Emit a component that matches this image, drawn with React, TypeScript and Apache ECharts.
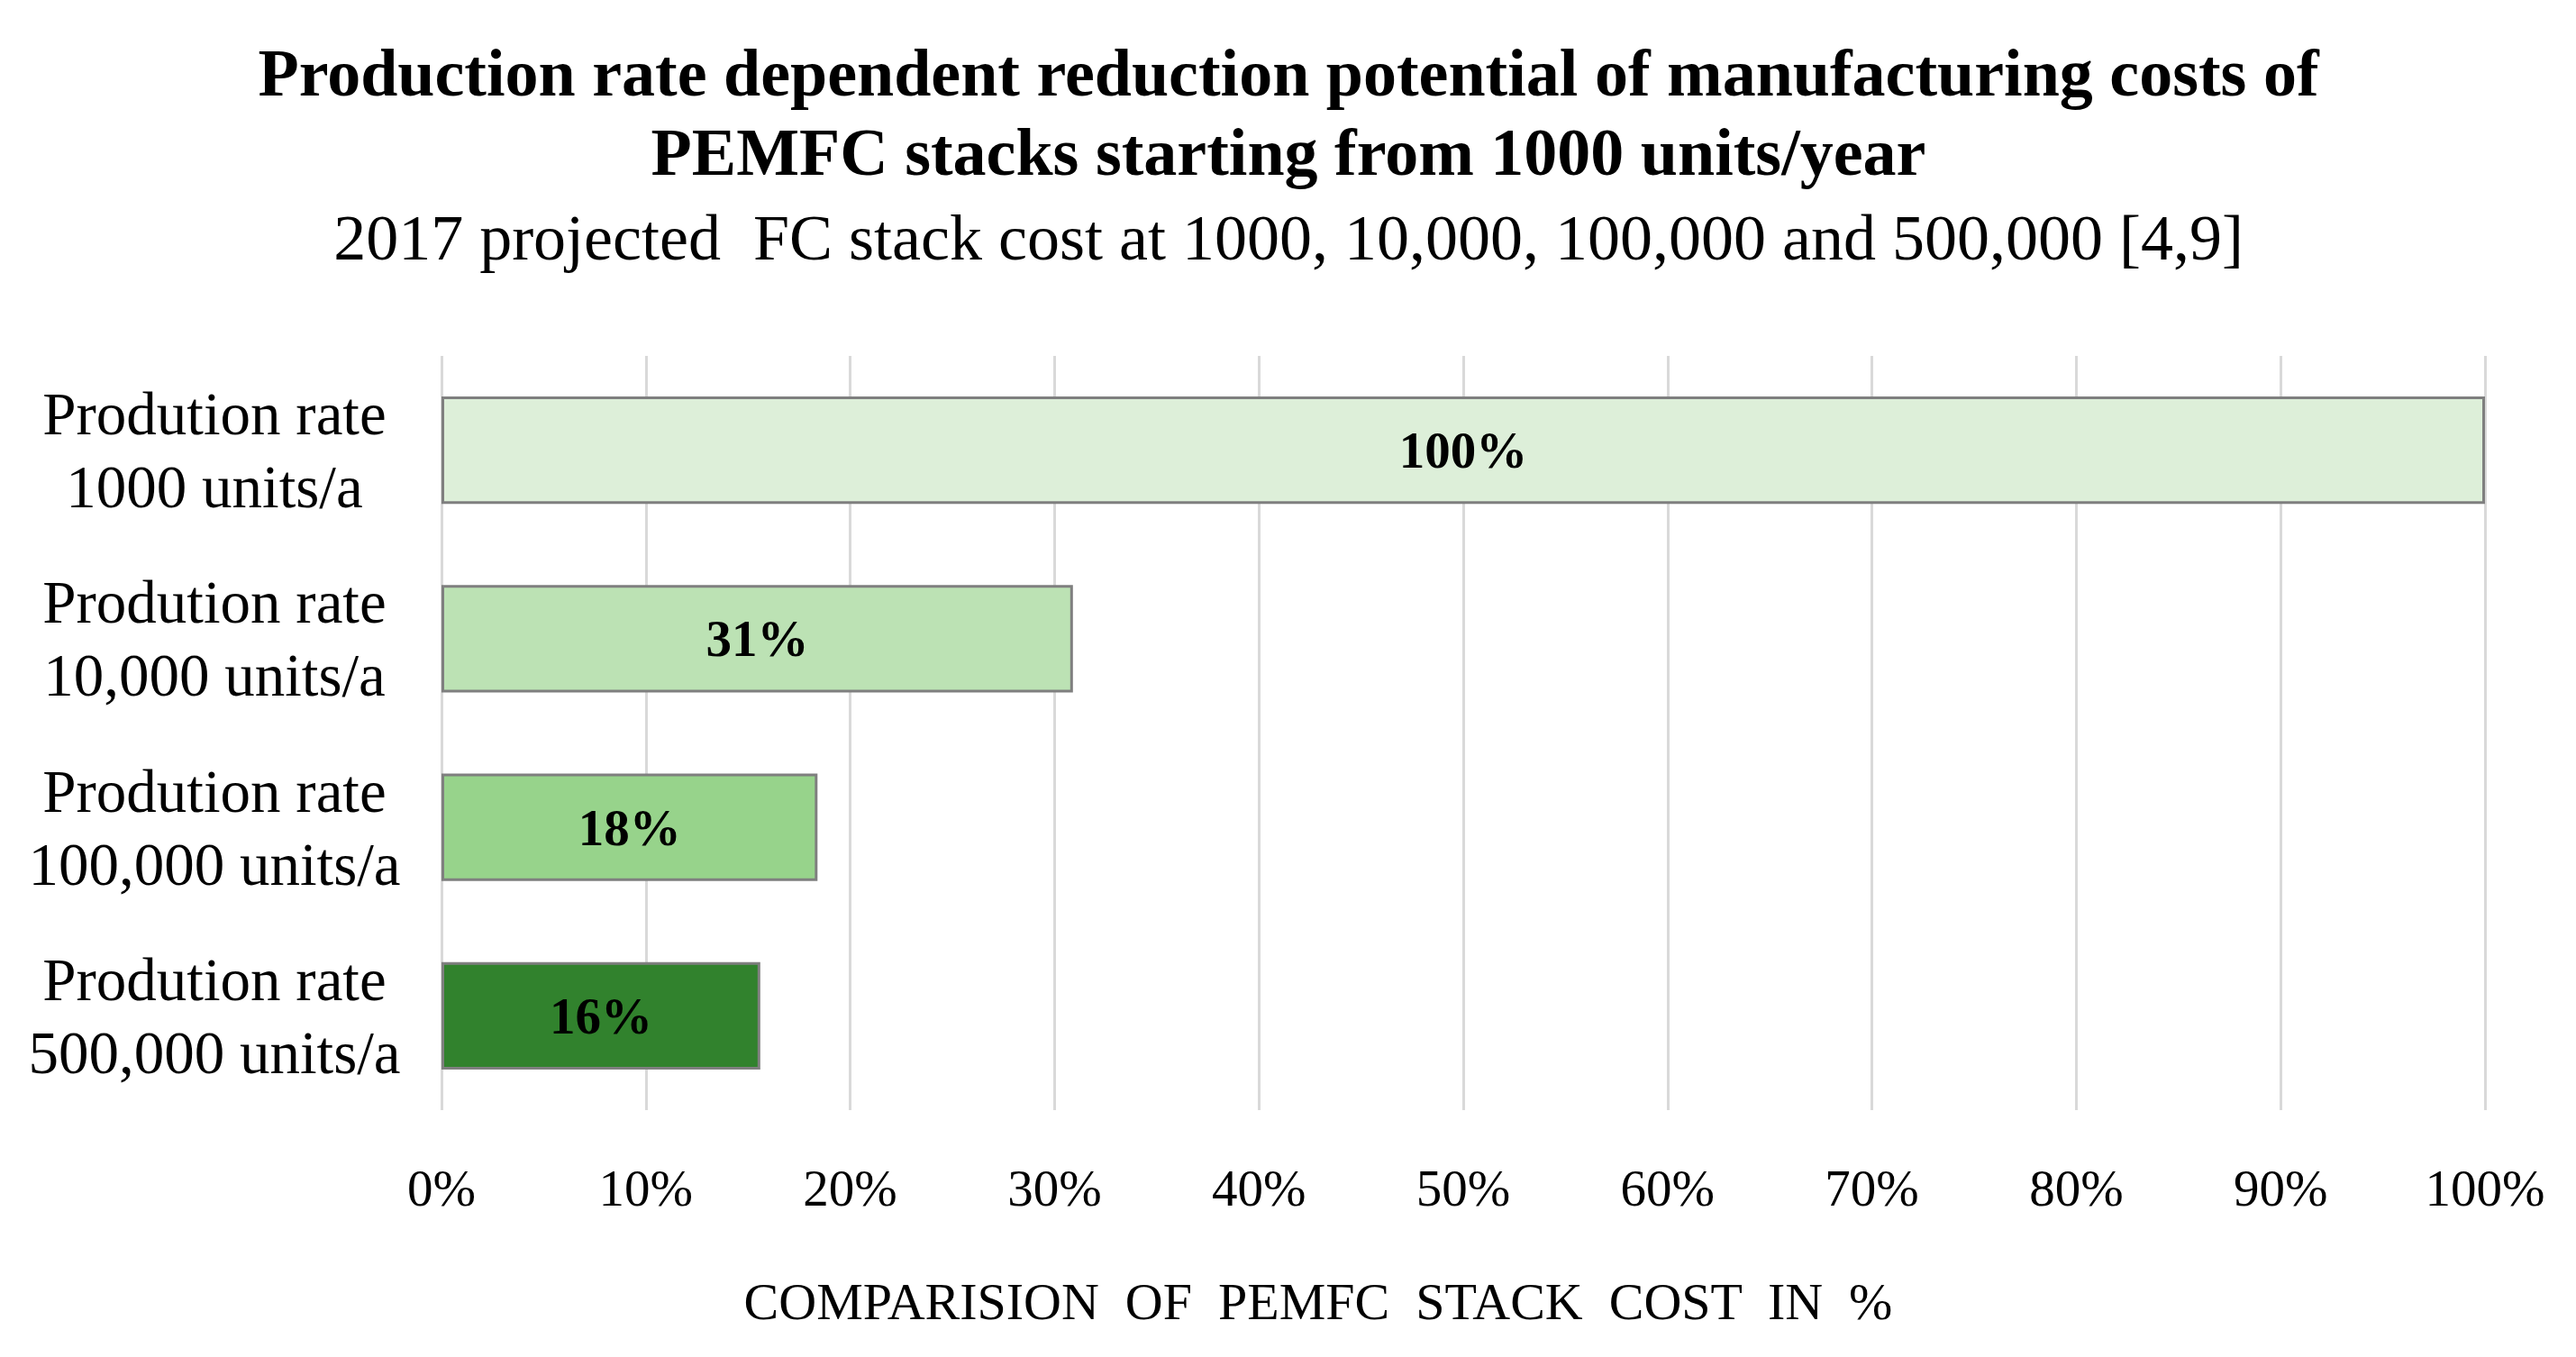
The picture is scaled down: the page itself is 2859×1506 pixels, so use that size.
import React, { useEffect, useRef } from "react";
import * as echarts from "echarts";

const categories = [
  "Prodution rate\n1000 units/a",
  "Prodution rate\n10,000 units/a",
  "Prodution rate\n100,000 units/a",
  "Prodution rate\n500,000 units/a",
];
const costShare = [100, 30.9, 18.4, 15.6];
const barColors = ["#DDEFD9", "#BCE2B4", "#97D38B", "#31822D"];
const titleText =
  "Production rate dependent reduction potential of manufacturing costs of\nPEMFC stacks starting from 1000 units/year";
const subtitleText =
  "2017 projected  FC stack cost at 1000, 10,000, 100,000 and 500,000 [4,9]";
const axisTitle = "COMPARISION  OF  PEMFC  STACK  COST  IN  %";

const FONT = "'Liberation Serif', 'Times New Roman', serif";

export default function App() {
  const ref = useRef<HTMLDivElement>(null);
  useEffect(() => {
    if (!ref.current) return;
    const chart = echarts.init(ref.current, undefined, { renderer: "svg" });
    chart.setOption({
      animation: false,
      backgroundColor: "#ffffff",
      title: [
        {
          text: titleText,
          left: 1425,
          top: 32,
          textAlign: "center",
          textStyle: {
            fontFamily: FONT,
            fontWeight: "bold",
            fontSize: 74,
            lineHeight: 88,
            color: "#000",
          },
        },
        {
          text: subtitleText,
          left: 1425,
          top: 215,
          textAlign: "center",
          textStyle: {
            fontFamily: FONT,
            fontWeight: "normal",
            fontSize: 72,
            lineHeight: 88,
            color: "#000",
          },
        },
      ],
      grid: { left: 490, right: 101, top: 395, bottom: 274, containLabel: false },
      xAxis: {
        type: "value",
        min: 0,
        max: 100,
        interval: 10,
        name: axisTitle,
        nameLocation: "middle",
        nameGap: 183,
        nameTextStyle: {
          fontFamily: FONT,
          fontSize: 58,
          color: "#000",
          padding: [0, 322, 0, 0],
        },
        axisLine: { show: false },
        axisTick: { show: false },
        axisLabel: {
          formatter: (v: number) => `${v}%`,
          fontFamily: FONT,
          fontSize: 57,
          color: "#000",
          margin: 58,
        },
        splitLine: { show: true, lineStyle: { color: "#D9D9D9", width: 3 } },
      },
      yAxis: {
        type: "category",
        data: categories,
        inverse: true,
        axisLine: { show: false },
        axisTick: { show: false },
        axisLabel: {
          fontFamily: FONT,
          fontSize: 67,
          lineHeight: 81,
          color: "#000",
          align: "center",
          margin: 252,
        },
      },
      series: [
        {
          type: "bar",
          data: costShare.map((v, i) => ({
            value: v,
            itemStyle: { color: barColors[i] },
          })),
          barCategoryGap: "43%",
          itemStyle: { borderColor: "#7F7F7F", borderWidth: 3 },
          label: {
            show: true,
            position: "inside",
            formatter: (p: any) => `${Math.round(p.value)}%`,
            fontFamily: FONT,
            fontWeight: "bold",
            fontSize: 57,
            color: "#000",
          },
        },
      ],
    });
    return () => chart.dispose();
  }, []);
  return (
    <div
      ref={ref}
      style={{ position: "fixed", left: 0, top: 0, width: 2859, height: 1506 }}
    />
  );
}
